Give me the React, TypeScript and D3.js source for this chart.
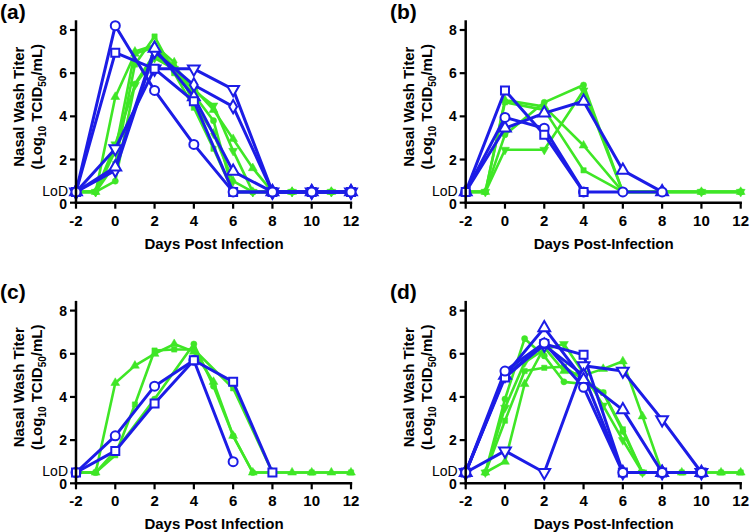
import React from "react";
import * as d3 from "d3";

// ---------- data ----------
type Pt = [number, number];

const xTicks = [-2, 0, 2, 4, 6, 8, 10, 12];
const yTicks = [0, 2, 4, 6, 8];
const LOD = 0.5;

// Panel (a)
const aBlueCircle: Pt[] = [[-2, 0.5], [0, 8.2], [2, 5.2], [4, 2.7], [6, 0.5], [8, 0.5], [10, 0.5], [12, 0.5]];
const aBlueSquare: Pt[] = [[-2, 0.5], [0, 6.95], [2, 6.2], [4, 4.7], [6, 0.5], [8, 0.5], [10, 0.5], [12, 0.5]];
const aBlueTriUp: Pt[] = [[-2, 0.5], [0, 1.65], [2, 7.15], [4, 4.9], [6, 1.45], [8, 0.5], [10, 0.5], [12, 0.5]];
const aBlueTriDown: Pt[] = [[-2, 0.5], [0, 2.5], [2, 6.2], [4, 6.2], [6, 5.25], [8, 0.5], [10, 0.5], [12, 0.5]];
const aBlueDiamond: Pt[] = [[-2, 0.5], [0, 1.5], [2, 7.0], [4, 5.45], [6, 4.45], [8, 0.5], [10, 0.5], [12, 0.5]];
const aGreenSquare: Pt[] = [[-2, 0.5], [-1, 0.5], [0, 1.8], [1, 6.4], [2, 7.7], [3, 6.0], [4, 4.4], [5, 2.5], [6, 0.5], [7, 0.5], [8, 0.5], [9, 0.5], [10, 0.5], [11, 0.5], [12, 0.5]];
const aGreenCircle: Pt[] = [[-2, 0.5], [-1, 0.5], [0, 1.0], [1, 5.5], [2, 6.9], [3, 6.1], [4, 5.0], [5, 3.8], [6, 0.5], [7, 0.5], [8, 0.5], [9, 0.5], [10, 0.5], [11, 0.5], [12, 0.5]];
const aGreenTriUp: Pt[] = [[-2, 0.5], [-1, 0.5], [0, 4.9], [1, 6.9], [2, 7.2], [3, 6.3], [4, 5.3], [5, 4.3], [6, 2.95], [7, 1.6], [8, 0.5], [9, 0.5], [10, 0.5], [11, 0.5], [12, 0.5]];
const aGreenTriDown: Pt[] = [[-2, 0.5], [-1, 0.5], [0, 2.7], [1, 5.45], [2, 6.7], [3, 6.2], [4, 5.2], [5, 4.5], [6, 2.4], [7, 0.5], [8, 0.5], [9, 0.5], [10, 0.5], [11, 0.5], [12, 0.5]];
const aGreenDiamond: Pt[] = [[-2, 0.5], [-1, 0.5], [0, 2.4], [1, 7.0], [2, 7.3], [3, 6.5], [4, 4.6], [5, 3.2], [6, 1.0], [7, 0.5], [8, 0.5], [9, 0.5], [10, 0.5], [11, 0.5], [12, 0.5]];

// Panel (b)
const bBlueCircle: Pt[] = [[-2, 0.5], [0, 3.95], [2, 3.45], [4, 0.5], [6, 0.5], [8, 0.5]];
const bBlueSquare: Pt[] = [[-2, 0.5], [0, 5.2], [2, 3.15], [4, 0.5]];
const bBlueTriUp: Pt[] = [[-2, 0.5], [0, 3.45], [2, 4.15], [4, 4.7], [6, 1.5], [8, 0.5]];
const bGreenCircle: Pt[] = [[-2, 0.5], [-1, 0.5], [0, 3.15], [2, 4.65], [4, 5.45], [6, 0.5], [8, 0.5], [10, 0.5], [12, 0.5]];
const bGreenTriUp: Pt[] = [[-2, 0.5], [-1, 0.5], [0, 4.75], [2, 4.45], [4, 2.65], [6, 0.5], [8, 0.5], [10, 0.5], [12, 0.5]];
const bGreenSquare: Pt[] = [[-2, 0.5], [-1, 0.5], [0, 4.65], [2, 4.3], [4, 1.5], [6, 0.5], [8, 0.5], [10, 0.5], [12, 0.5]];
const bGreenTriDown: Pt[] = [[-2, 0.5], [-1, 0.5], [0, 2.45], [2, 2.45], [4, 5.2], [6, 0.5], [8, 0.5], [10, 0.5], [12, 0.5]];

// Panel (c)
const cBlueCircle: Pt[] = [[-2, 0.5], [0, 2.2], [2, 4.5], [4, 5.7], [6, 1.0]];
const cBlueSquare: Pt[] = [[-2, 0.5], [0, 1.5], [2, 3.7], [4, 5.7], [6, 4.7], [8, 0.5]];
const cGreenTriUp: Pt[] = [[-2, 0.5], [-1, 0.5], [0, 4.65], [1, 5.45], [2, 6.0], [3, 6.45], [4, 6.1], [5, 4.7], [6, 2.2], [7, 0.5], [8, 0.5], [9, 0.5], [10, 0.5], [11, 0.5], [12, 0.5]];
const cGreenSquare: Pt[] = [[-2, 0.5], [-1, 0.5], [0, 1.3], [1, 3.65], [2, 6.15], [3, 6.2], [4, 6.2], [6, 4.4], [8, 0.5], [10, 0.5], [12, 0.5]];
const cGreenCircle: Pt[] = [[-2, 0.5], [-1, 0.5], [0, 1.5], [2, 3.9], [4, 6.45], [5, 4.5], [6, 2.2], [7, 0.5], [8, 0.5]];

// Panel (d)
const dBlueCircle: Pt[] = [[-2, 0.5], [0, 5.2], [2, 6.5], [4, 4.45], [6, 0.5], [8, 0.5], [10, 0.5]];
const dBlueSquare: Pt[] = [[-2, 0.5], [0, 4.9], [2, 6.45], [4, 5.95], [6, 0.5], [8, 0.5], [10, 0.5]];
const dBlueTriUp: Pt[] = [[-2, 0.5], [0, 5.0], [2, 7.2], [4, 4.8], [6, 3.4], [8, 0.5], [10, 0.5]];
const dBlueTriDown: Pt[] = [[-2, 0.5], [0, 1.5], [2, 0.5], [4, 5.45], [6, 5.2], [8, 2.95], [10, 0.5]];
const dBlueDiamond: Pt[] = [[-2, 0.5], [0, 5.0], [2, 6.4], [4, 5.0], [6, 0.5], [8, 0.5]];
const dGreenCircle: Pt[] = [[-1, 0.5], [0, 3.9], [1, 6.7], [2, 5.9], [3, 4.7], [4, 4.6], [5, 4.2], [6, 2.4], [7, 0.5], [8, 0.5]];
const dGreenTriUp: Pt[] = [[-1, 0.5], [0, 1.0], [1, 4.6], [2, 6.3], [3, 5.2], [4, 5.0], [5, 5.3], [6, 5.65], [7, 3.1], [8, 0.5], [9, 0.5], [10, 0.5], [11, 0.5], [12, 0.5]];
const dGreenSquare: Pt[] = [[-1, 0.5], [0, 2.9], [1, 5.2], [2, 5.35], [3, 5.4], [4, 4.8], [5, 4.2], [6, 2.5], [7, 0.5], [8, 0.5], [9, 0.5], [10, 0.5], [11, 0.5], [12, 0.5]];
const dGreenTriDown: Pt[] = [[-1, 0.5], [0, 3.5], [1, 5.6], [2, 6.2], [3, 6.45], [4, 5.1], [5, 3.6], [6, 2.0], [7, 0.5], [8, 0.5]];

// ---------- styling ----------
const BLUE = "#1c1ce6";
const GREEN = "#3fe626";
const FONT = "'Liberation Sans', Arial, Helvetica, sans-serif";

type Shape = "circle" | "square" | "triUp" | "triDown" | "diamond";
type Series = { pts: Pt[]; shape: Shape };

const panels = [
  {
    label: "(a)", ox: 76, y0: 202.7, lx: 0, xTitle: "Days Post Infection",
    green: [
      { pts: aGreenSquare, shape: "square" }, { pts: aGreenCircle, shape: "circle" },
      { pts: aGreenTriUp, shape: "triUp" }, { pts: aGreenTriDown, shape: "triDown" },
      { pts: aGreenDiamond, shape: "diamond" },
    ] as Series[],
    blue: [
      { pts: aBlueDiamond, shape: "diamond" }, { pts: aBlueTriDown, shape: "triDown" },
      { pts: aBlueTriUp, shape: "triUp" }, { pts: aBlueSquare, shape: "square" },
      { pts: aBlueCircle, shape: "circle" },
    ] as Series[],
  },
  {
    label: "(b)", ox: 465.7, y0: 202.7, lx: 390, xTitle: "Days Post-Infection",
    green: [
      { pts: bGreenCircle, shape: "circle" }, { pts: bGreenTriUp, shape: "triUp" },
      { pts: bGreenSquare, shape: "square" }, { pts: bGreenTriDown, shape: "triDown" },
    ] as Series[],
    blue: [
      { pts: bBlueTriUp, shape: "triUp" }, { pts: bBlueCircle, shape: "circle" },
      { pts: bBlueSquare, shape: "square" },
    ] as Series[],
  },
  {
    label: "(c)", ox: 76, y0: 483.3, lx: 0, xTitle: "Days Post Infection",
    green: [
      { pts: cGreenTriUp, shape: "triUp" }, { pts: cGreenSquare, shape: "square" },
      { pts: cGreenCircle, shape: "circle" },
    ] as Series[],
    blue: [
      { pts: cBlueCircle, shape: "circle" }, { pts: cBlueSquare, shape: "square" },
    ] as Series[],
  },
  {
    label: "(d)", ox: 465.7, y0: 483.3, lx: 390, xTitle: "Days Post-Infection",
    green: [
      { pts: dGreenCircle, shape: "circle" }, { pts: dGreenTriUp, shape: "triUp" },
      { pts: dGreenSquare, shape: "square" }, { pts: dGreenTriDown, shape: "triDown" },
    ] as Series[],
    blue: [
      { pts: dBlueTriDown, shape: "triDown" }, { pts: dBlueDiamond, shape: "diamond" },
      { pts: dBlueTriUp, shape: "triUp" }, { pts: dBlueSquare, shape: "square" },
      { pts: dBlueCircle, shape: "circle" },
    ] as Series[],
  },
];

const symbolFor: Record<Shape, d3.SymbolType> = {
  circle: d3.symbolCircle,
  square: d3.symbolSquare,
  triUp: d3.symbolTriangle,
  triDown: d3.symbolTriangle,
  diamond: d3.symbolDiamond,
};

function markerPath(shape: Shape, size: number) {
  return d3.symbol().type(symbolFor[shape]).size(size)() || "";
}

function Panel({ p }: { p: (typeof panels)[number] }) {
  const x = d3.scaleLinear().domain([-2, 12]).range([p.ox, p.ox + 275]);
  const y = d3.scaleLinear().domain([0, 8]).range([p.y0, p.y0 - 172.7]);
  const line = d3.line<Pt>().x((d) => x(d[0])).y((d) => y(d[1]));
  const titleMidY = p.y0 - 96;
  const blueSize: Record<Shape, number> = { circle: 64, square: 64, triUp: 60, triDown: 60, diamond: 52 };
  const greenSize: Record<Shape, number> = { circle: 30, square: 28, triUp: 34, triDown: 34, diamond: 30 };
  return (
    <g>
      <text x={p.lx} y={p.y0 - 184} fontSize={21} fontWeight="bold" fontFamily={FONT}>{p.label}</text>
      {/* y title */}
      <g transform={`translate(${p.ox - 52},${titleMidY}) rotate(-90)`}>
        <text textAnchor="middle" fontSize={15} fontWeight="bold" fontFamily={FONT}>Nasal Wash Titer</text>
      </g>
      <g transform={`translate(${p.ox - 34},${titleMidY}) rotate(-90)`}>
        <text textAnchor="middle" fontSize={15} fontWeight="bold" fontFamily={FONT}>
          (Log<tspan fontSize={10} dy={4}>10</tspan><tspan dy={-4}> TCID</tspan><tspan fontSize={10} dy={4}>50</tspan><tspan dy={-4}>/mL)</tspan>
        </text>
      </g>
      {/* x title */}
      <text x={p.ox + 138} y={p.y0 + 46} textAnchor="middle" fontSize={15} fontWeight="bold" fontFamily={FONT}>{p.xTitle}</text>
      {/* green series */}
      {p.green.map((s, i) => (
        <g key={"g" + i}>
          <path d={line(s.pts) || ""} fill="none" stroke={GREEN} strokeWidth={2.6} strokeLinejoin="round" />
          {s.pts.map((d, j) => (
            <path key={j} d={markerPath(s.shape, greenSize[s.shape])}
              transform={`translate(${x(d[0])},${y(d[1])})${s.shape === "triDown" ? " rotate(180)" : ""}`}
              fill={GREEN} stroke={GREEN} strokeWidth={0.5} />
          ))}
        </g>
      ))}
      {/* blue series */}
      {p.blue.map((s, i) => (
        <path key={"bl" + i} d={line(s.pts) || ""} fill="none" stroke={BLUE} strokeWidth={3} strokeLinejoin="round" />
      ))}
      {p.blue.map((s, i) => (
        <g key={"bm" + i}>
          {s.pts.map((d, j) => (
            <path key={j} d={markerPath(s.shape, blueSize[s.shape])}
              transform={`translate(${x(d[0])},${y(d[1])})${s.shape === "triDown" ? " rotate(180)" : ""}`}
              fill="white" stroke={BLUE} strokeWidth={2} />
          ))}
        </g>
      ))}
      {/* axes */}
      <line x1={p.ox} x2={p.ox} y1={y(0) + 1.2} y2={y(8.45)} stroke="black" strokeWidth={2.5} />
      <line x1={p.ox - 1.2} x2={x(12) + 1.2} y1={y(0)} y2={y(0)} stroke="black" strokeWidth={2.5} />
      {yTicks.map((t) => (
        <g key={"yt" + t}>
          <line x1={p.ox - 6} x2={p.ox} y1={y(t)} y2={y(t)} stroke="black" strokeWidth={2.2} />
          <text x={p.ox - 9} y={y(t)} dy={t === 0 ? "0.42em" : "0.36em"} textAnchor="end" fontSize={14} fontWeight="bold" fontFamily={FONT}>{t}</text>
        </g>
      ))}
      <text x={p.ox - 8} y={y(LOD)} dy="0.28em" textAnchor="end" fontSize={14} fontFamily={FONT}>LoD</text>
      {xTicks.map((t) => (
        <g key={"xt" + t}>
          <line x1={x(t)} x2={x(t)} y1={y(0)} y2={y(0) + 6} stroke="black" strokeWidth={2.2} />
          <text x={x(t)} y={y(0) + 23} textAnchor="middle" fontSize={15} fontWeight="bold" fontFamily={FONT}>{t}</text>
        </g>
      ))}
    </g>
  );
}

export default function App() {
  return (
    <svg width={750} height={532} viewBox="0 0 750 532"
      style={{ position: "absolute", left: 0, top: 0, background: "white" }}>
      <rect x={0} y={0} width={750} height={532} fill="white" />
      {panels.map((p) => <Panel key={p.label} p={p} />)}
    </svg>
  );
}
